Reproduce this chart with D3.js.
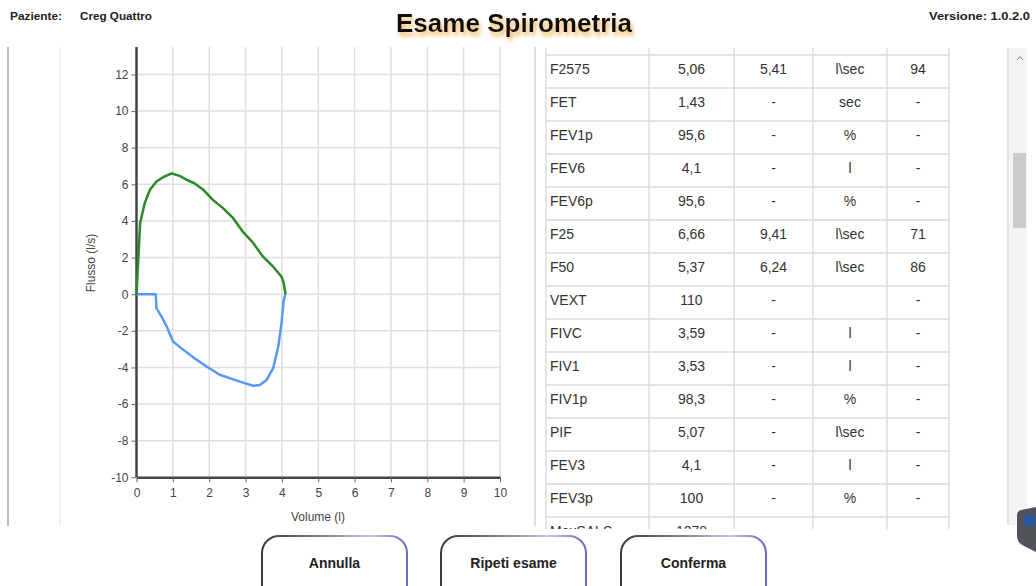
<!DOCTYPE html>
<html>
<head>
<meta charset="utf-8">
<script src="https://cdn.jsdelivr.net/npm/d3@7"></script>
<style>
  body { margin: 0; background: #fff; }
  svg text { font-family: "Liberation Sans", Arial, sans-serif; }
</style>
</head>
<body>
<div id="container"></div>
<script>
// Expiratory curve (green): volume (l), flow (l/s)
var expVolume = [0, 0.1, 0.23, 0.37, 0.55, 0.74, 0.97, 1.2, 1.38, 1.6, 1.84, 2.1, 2.38, 2.66, 2.93, 3.21, 3.48, 3.76, 3.99, 4.05, 4.1];
var expFlow   = [0, 3.9, 5.0, 5.7, 6.15, 6.4, 6.6, 6.45, 6.25, 6.05, 5.7, 5.15, 4.7, 4.15, 3.4, 2.8, 2.05, 1.5, 0.95, 0.6, 0];

// Inspiratory curve (blue)
var insVolume = [0, 0.53, 0.55, 0.69, 0.83, 1.01, 1.29, 1.56, 1.93, 2.29, 2.66, 2.93, 3.21, 3.39, 3.58, 3.76, 3.9, 3.99, 4.05, 4.1];
var insFlow   = [0, 0, -0.77, -1.22, -1.77, -2.6, -3.04, -3.45, -3.95, -4.4, -4.65, -4.83, -5.0, -4.96, -4.68, -4.04, -2.86, -1.58, -0.31, 0];

// Axis ticks
var xTicks = [0, 1, 2, 3, 4, 5, 6, 7, 8, 9, 10];
var yTicks = [-10, -8, -6, -4, -2, 0, 2, 4, 6, 8, 10, 12];

// Results table
var paramNames = ['', 'F2575', 'FET', 'FEV1p', 'FEV6', 'FEV6p', 'F25', 'F50', 'VEXT', 'FIVC', 'FIV1', 'FIV1p', 'PIF', 'FEV3', 'FEV3p', 'MaxSALS'];
var paramValues = ['', '5,06', '1,43', '95,6', '4,1', '95,6', '6,66', '5,37', '110', '3,59', '3,53', '98,3', '5,07', '4,1', '100', '1278'];
var paramRefs = ['', '5,41', '-', '-', '-', '-', '9,41', '6,24', '-', '-', '-', '-', '-', '-', '-', ''];
var paramUnits = ['', 'l\\sec', 'sec', '%', 'l', '%', 'l\\sec', 'l\\sec', '', 'l', 'l', '%', 'l\\sec', 'l', '%', ''];
var paramPct = ['', '94', '-', '-', '-', '-', '71', '86', '-', '-', '-', '-', '-', '-', '-', ''];

var buttonLabels = ['Annulla', 'Ripeti esame', 'Conferma'];

var svg = d3.select('#container')
  .append('svg')
  .attr('width', 1036)
  .attr('height', 586);

var defs = svg.append('defs');

// Orange glow under the title, done in one filter so the text is drawn once
var glow = defs.append('filter')
  .attr('id', 'glow')
  .attr('x', '-10%').attr('y', '-50%').attr('width', '120%').attr('height', '220%');
glow.append('feOffset').attr('in', 'SourceAlpha').attr('dx', 2).attr('dy', 4).attr('result', 'off');
glow.append('feGaussianBlur').attr('in', 'off').attr('stdDeviation', 2.2).attr('result', 'blur');
glow.append('feFlood').attr('flood-color', '#f2b860').attr('result', 'col');
glow.append('feComposite').attr('in', 'col').attr('in2', 'blur').attr('operator', 'in').attr('result', 'shadow');
var merge = glow.append('feMerge');
merge.append('feMergeNode').attr('in', 'shadow');
merge.append('feMergeNode').attr('in', 'SourceGraphic');

var grad = defs.append('linearGradient')
  .attr('id', 'btnStroke')
  .attr('x1', '0%').attr('x2', '100%');
grad.append('stop').attr('offset', '0%').attr('stop-color', '#3a3a3a');
grad.append('stop').attr('offset', '45%').attr('stop-color', '#8a8a8a');
grad.append('stop').attr('offset', '75%').attr('stop-color', '#c8c8e8');
grad.append('stop').attr('offset', '100%').attr('stop-color', '#6a6ac0');

defs.append('clipPath').attr('id', 'plotClip')
  .append('rect').attr('x', 0).attr('y', 47).attr('width', 1036).attr('height', 480);

defs.append('clipPath').attr('id', 'tableClip')
  .append('rect').attr('x', 540).attr('y', 48).attr('width', 420).attr('height', 481);

// Header
svg.append('text')
  .attr('x', 10).attr('y', 20)
  .attr('font-size', 10).attr('font-weight', 'bold')
  .attr('textLength', 52).attr('lengthAdjust', 'spacingAndGlyphs')
  .attr('fill', '#222')
  .text('Paziente:');

svg.append('text')
  .attr('x', 80).attr('y', 20)
  .attr('font-size', 10).attr('font-weight', 'bold')
  .attr('textLength', 72).attr('lengthAdjust', 'spacingAndGlyphs')
  .attr('fill', '#222')
  .text('Creg Quattro');

svg.append('text')
  .attr('x', 1030).attr('y', 20)
  .attr('text-anchor', 'end')
  .attr('font-size', 10).attr('font-weight', 'bold')
  .attr('textLength', 101).attr('lengthAdjust', 'spacingAndGlyphs')
  .attr('fill', '#222')
  .text('Versione: 1.0.2.0');

svg.append('text')
  .attr('x', 396).attr('y', 32)
  .attr('font-size', 26).attr('font-weight', 'bold')
  .attr('textLength', 236).attr('lengthAdjust', 'spacingAndGlyphs')
  .attr('fill', '#111')
  .attr('filter', 'url(#glow)')
  .text('Esame Spirometria');

// Left panel frame
svg.append('line').attr('x1', 8).attr('x2', 8).attr('y1', 47).attr('y2', 526)
  .attr('stroke', '#bbb').attr('stroke-width', 2);
svg.append('line').attr('x1', 60).attr('x2', 60).attr('y1', 47).attr('y2', 526)
  .attr('stroke', '#e2e2e2').attr('stroke-width', 1);
svg.append('line').attr('x1', 535).attr('x2', 535).attr('y1', 47).attr('y2', 526)
  .attr('stroke', '#d4d4d4').attr('stroke-width', 1.5);

// Scales
var xScale = d3.scaleLinear().domain([0, 10]).range([136.5, 500]);
var yScale = d3.scaleLinear().domain([-10, 13.5]).range([477.3, 47]);

var plot = svg.append('g').attr('clip-path', 'url(#plotClip)');

// Grid
plot.selectAll('.vgrid')
  .data(xTicks.slice(1))
  .enter().append('line')
  .attr('class', 'vgrid')
  .attr('x1', (d) => xScale(d)).attr('x2', (d) => xScale(d))
  .attr('y1', yScale(-10)).attr('y2', 40)
  .attr('stroke', '#dedede').attr('stroke-width', 1.5);

plot.selectAll('.hgrid')
  .data(yTicks.slice(1))
  .enter().append('line')
  .attr('class', 'hgrid')
  .attr('x1', xScale(0)).attr('x2', xScale(10))
  .attr('y1', (d) => yScale(d)).attr('y2', (d) => yScale(d))
  .attr('stroke', '#dedede').attr('stroke-width', 1.5);

// Axes (plain hyphen for negatives, as in the original)
var fmt = (d) => String(d);
var xAxis = d3.axisBottom(xScale).tickValues(xTicks).tickSize(5).tickSizeOuter(0).tickFormat(fmt);
var yAxis = d3.axisLeft(yScale).tickValues(yTicks).tickSize(5).tickSizeOuter(0).tickFormat(fmt);

var gx = plot.append('g')
  .attr('transform', `translate(0, ${yScale(-10)})`)
  .call(xAxis);
var gy = plot.append('g')
  .attr('transform', `translate(${xScale(0)}, 0)`)
  .call(yAxis);

[gx, gy].forEach((g) => {
  g.select('.domain').attr('stroke', '#444').attr('stroke-width', 2.5);
  g.selectAll('.tick line').attr('stroke', '#666');
  g.selectAll('.tick text')
    .attr('fill', '#444')
    .style('font-family', '"Liberation Sans", Arial, sans-serif')
    .style('font-size', '12px');
});
gy.select('.domain').attr('d', `M0,${yScale(-10)}V40`);
gx.selectAll('.tick text').attr('dy', '0.95em');
gy.selectAll('.tick text').attr('x', -8);

// Axis labels
svg.append('text')
  .attr('transform', 'translate(95, 263) rotate(-90)')
  .attr('text-anchor', 'middle')
  .attr('font-size', 12)
  .attr('fill', '#444')
  .text('Flusso (l/s)');

svg.append('text')
  .attr('x', 318).attr('y', 521)
  .attr('text-anchor', 'middle')
  .attr('font-size', 12)
  .attr('fill', '#444')
  .text('Volume (l)');

// Curves
var line = d3.line()
  .x((d) => xScale(d[0]))
  .y((d) => yScale(d[1]));

plot.append('path')
  .datum(d3.zip(insVolume, insFlow))
  .attr('d', line)
  .attr('fill', 'none')
  .attr('stroke', '#5599f2')
  .attr('stroke-width', 2.5)
  .attr('stroke-linejoin', 'round');

plot.append('path')
  .datum(d3.zip(expVolume, expFlow))
  .attr('d', line)
  .attr('fill', 'none')
  .attr('stroke', '#2a8a26')
  .attr('stroke-width', 2.5)
  .attr('stroke-linejoin', 'round');

// Table
var colEdges = [546, 649, 734, 813, 887, 949];
var rowTop = 22;
var rowH = 33;
var table = svg.append('g').attr('clip-path', 'url(#tableClip)');

table.selectAll('.colline')
  .data(colEdges)
  .enter().append('line')
  .attr('x1', (d) => d).attr('x2', (d) => d)
  .attr('y1', 40).attr('y2', 540)
  .attr('stroke', '#dcdcdc').attr('stroke-width', 1.5);

table.selectAll('.rowline')
  .data(paramNames)
  .enter().append('line')
  .attr('x1', colEdges[0]).attr('x2', colEdges[5])
  .attr('y1', (d, i) => rowTop + rowH * (i + 1))
  .attr('y2', (d, i) => rowTop + rowH * (i + 1))
  .attr('stroke', '#d8d8d8').attr('stroke-width', 1.5);

var columns = [paramNames, paramValues, paramRefs, paramUnits, paramPct];
columns.forEach((col, c) => {
  table.selectAll('.col' + c)
    .data(col)
    .enter().append('text')
    .attr('x', c === 0 ? colEdges[0] + 4 : (colEdges[c] + colEdges[c + 1]) / 2)
    .attr('y', (d, i) => rowTop + rowH * i + 18.5)
    .attr('text-anchor', c === 0 ? 'start' : 'middle')
    .attr('font-size', 14)
    .attr('fill', '#333')
    .text((d) => d);
});

// Scrollbar
svg.append('rect')
  .attr('x', 1008).attr('y', 48).attr('width', 19).attr('height', 477)
  .attr('fill', '#f4f4f4');
svg.append('line').attr('x1', 1008).attr('x2', 1008).attr('y1', 48).attr('y2', 525)
  .attr('stroke', '#dcdcdc').attr('stroke-width', 1.5);
svg.append('rect')
  .attr('x', 1013).attr('y', 153).attr('width', 13).attr('height', 75)
  .attr('fill', '#cbcbcb');
svg.append('path')
  .attr('d', 'M1017,60 L1020,56.5 L1023,60')
  .attr('fill', 'none').attr('stroke', '#888').attr('stroke-width', 1);

// Floating icon bottom right
svg.append('path')
  .attr('d', 'M1021,510 L1036,507 L1036,552 L1024,546 Q1017,543 1017,536 L1017,516 Q1017,511 1021,510 Z')
  .attr('fill', '#505458');
svg.append('rect')
  .attr('x', 1024).attr('y', 515).attr('width', 11).attr('height', 11).attr('rx', 2)
  .attr('fill', '#2c5aa0');

// Buttons
var btnX = [262, 441, 621];
var btn = svg.selectAll('.btn')
  .data(buttonLabels)
  .enter().append('g')
  .attr('transform', (d, i) => `translate(${btnX[i]}, 536)`);

btn.append('rect')
  .attr('width', 145).attr('height', 70)
  .attr('rx', 17)
  .attr('fill', '#fff')
  .attr('stroke', 'url(#btnStroke)')
  .attr('stroke-width', 2);

btn.append('text')
  .attr('x', 72.5).attr('y', 32)
  .attr('text-anchor', 'middle')
  .attr('font-size', 14).attr('font-weight', 'bold')
  .attr('fill', '#222')
  .text((d) => d);
</script>
</body>
</html>
